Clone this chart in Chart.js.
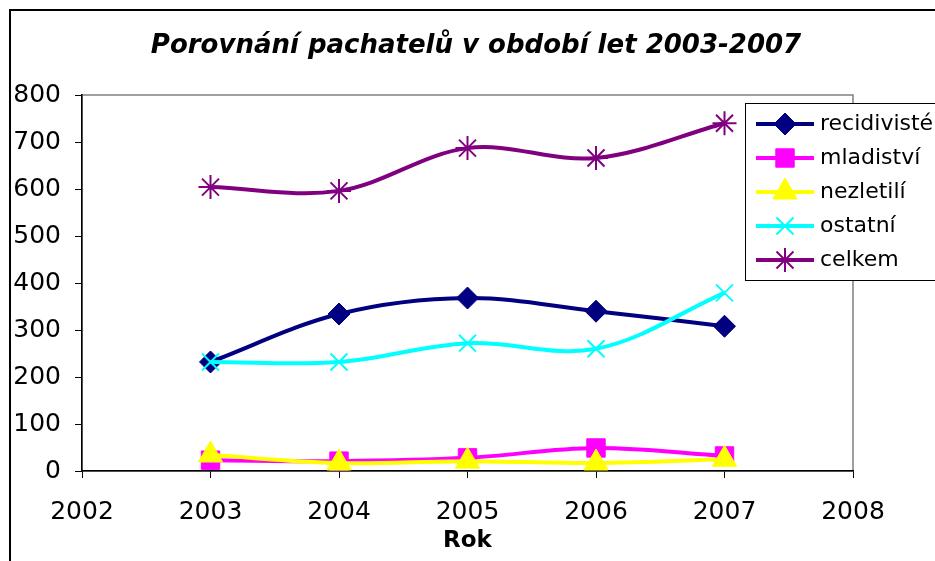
<!DOCTYPE html>
<html lang="cs">
<head>
<meta charset="utf-8">
<title>Porovnání pachatelů</title>
<script src="https://cdn.jsdelivr.net/npm/chart.js@4.4.1/dist/chart.umd.min.js"></script>
<style>
  body { margin: 0; background: #fff; }
  #obal { width: 935px; height: 561px; }
</style>
</head>
<body>
<div id="obal"><canvas id="pachateleChart" width="935" height="561"></canvas></div>
<script>
// Data
const roky = [2003, 2004, 2005, 2006, 2007];
const recidiviste = [232, 334, 368, 340, 308];
const mladistvi = [23, 21, 28, 49, 32];
const nezletili = [34, 17, 21, 17, 25];
const ostatni = [232, 232, 272, 260, 379];
const celkem = [604, 596, 687, 666, 740];
const nazvySerii = ['recidivisté', 'mladiství', 'nezletilí', 'ostatní', 'celkem'];
const nadpis = 'Porovnání pachatelů v období let 2003-2007';

// Osy
const osaXMin = 2002, osaXMax = 2008;
const osaYMin = 0, osaYMax = 800, osaYKrok = 100;

const pismo = '"DejaVu Sans", Arial, sans-serif';

// Pomocná funkce: spojí roky s hodnotami
function body(hodnoty) {
    return roky.map((rok, i) => ({ x: rok, y: hodnoty[i] }));
}

function serie(i, hodnoty, barva, styl, polomer, tloustka) {
    return {
        label: nazvySerii[i],
        data: body(hodnoty),
        borderColor: barva,
        backgroundColor: barva,
        borderWidth: 4,
        tension: 0.35,
        pointStyle: styl,
        pointRadius: polomer,
        pointBorderWidth: tloustka,
        pointBackgroundColor: barva,
        pointBorderColor: barva,
        order: 5 - i // pozdější série se kreslí navrch (jako v Excelu)
    };
}

// Rámeček celého grafu, šedý rámeček plochy a nadpis
const ramecky = {
    id: 'ramecky',
    beforeDraw(chart) {
        const ctx = chart.ctx;
        const a = chart.chartArea;
        ctx.save();
        ctx.fillStyle = '#fff';
        ctx.fillRect(0, 0, chart.width, chart.height);
        ctx.strokeStyle = '#000';
        ctx.lineWidth = 2;
        ctx.strokeRect(10, 10, chart.width + 20, chart.height + 20);
        ctx.strokeStyle = '#808080';
        ctx.lineWidth = 1.5;
        ctx.strokeRect(a.left, a.top, a.right - a.left, a.bottom - a.top);
        // nadpis (vycentrovaný na celý rámeček, ne jen na plochu)
        ctx.fillStyle = '#000';
        ctx.font = 'italic bold 26px ' + pismo;
        ctx.textAlign = 'center';
        ctx.textBaseline = 'middle';
        ctx.fillText(nadpis, 476, 46);
        ctx.restore();
    }
};

// Vlastní legenda v rámečku (překrývá pravý okraj plochy)
const legenda = {
    id: 'legenda',
    afterDraw(chart) {
        const ctx = chart.ctx;
        ctx.save();
        ctx.fillStyle = '#fff';
        ctx.fillRect(745, 103, 200, 177);
        ctx.strokeStyle = '#000';
        ctx.lineWidth = 1;
        ctx.strokeRect(745.5, 103.5, 200, 177);
        chart.data.datasets.forEach((ds, i) => {
            const y = 124 + i * 34;
            ctx.strokeStyle = ds.borderColor;
            ctx.lineWidth = 4;
            ctx.beginPath();
            ctx.moveTo(756, y);
            ctx.lineTo(814, y);
            ctx.stroke();
            ctx.fillStyle = ds.borderColor;
            ctx.strokeStyle = ds.borderColor;
            ctx.lineWidth = ds.pointBorderWidth;
            Chart.helpers.drawPoint(ctx, {
                pointStyle: ds.pointStyle,
                radius: ds.pointRadius,
                rotation: 0,
                borderWidth: ds.pointBorderWidth
            }, 785, y);
            ctx.fillStyle = '#000';
            ctx.font = '22px ' + pismo;
            ctx.textBaseline = 'middle';
            ctx.textAlign = 'left';
            ctx.fillText(ds.label, 820, y);
        });
        ctx.restore();
    }
};

const ctx = document.getElementById('pachateleChart').getContext('2d');
const pachateleChart = new Chart(ctx, {
    type: 'line',
    data: {
        datasets: [
            serie(0, recidiviste, '#000080', 'rectRot', 11, 1),
            serie(1, mladistvi, '#FF00FF', 'rect', 13, 1),
            serie(2, nezletili, '#FFFF00', 'triangle', 14, 1),
            serie(3, ostatni, '#00FFFF', 'crossRot', 12, 2),
            serie(4, celkem, '#800080', 'star', 12, 2)
        ]
    },
    options: {
        responsive: false,
        animation: false,
        layout: { padding: { left: 0, right: 82, top: 95, bottom: 0 } },
        plugins: {
            legend: { display: false },
            tooltip: { enabled: false },
            title: { display: false }
        },
        scales: {
            x: {
                type: 'linear',
                min: osaXMin,
                max: osaXMax,
                afterFit: (scale) => { scale.height = 90; },
                border: { display: true, color: '#000', width: 1.5 },
                grid: { drawOnChartArea: false, drawTicks: true, tickLength: 7, color: '#000' },
                ticks: {
                    stepSize: 1,
                    color: '#000',
                    padding: 19,
                    maxRotation: 0,
                    font: { family: pismo, size: 25 },
                    callback: (v) => String(v)
                },
                title: {
                    display: true,
                    text: 'Rok',
                    color: '#000',
                    font: { family: pismo, size: 23, weight: 'bold', lineHeight: 1.2 },
                    padding: { top: 0, bottom: 6 }
                }
            },
            y: {
                min: osaYMin,
                max: osaYMax,
                afterFit: (scale) => { scale.width = 82; },
                border: { display: true, color: '#000', width: 1.5 },
                grid: { drawOnChartArea: false, drawTicks: true, tickLength: 7, color: '#000' },
                ticks: {
                    stepSize: osaYKrok,
                    color: '#000',
                    padding: 14,
                    font: { family: pismo, size: 25 }
                }
            }
        }
    },
    plugins: [ramecky, legenda]
});
</script>
</body>
</html>
